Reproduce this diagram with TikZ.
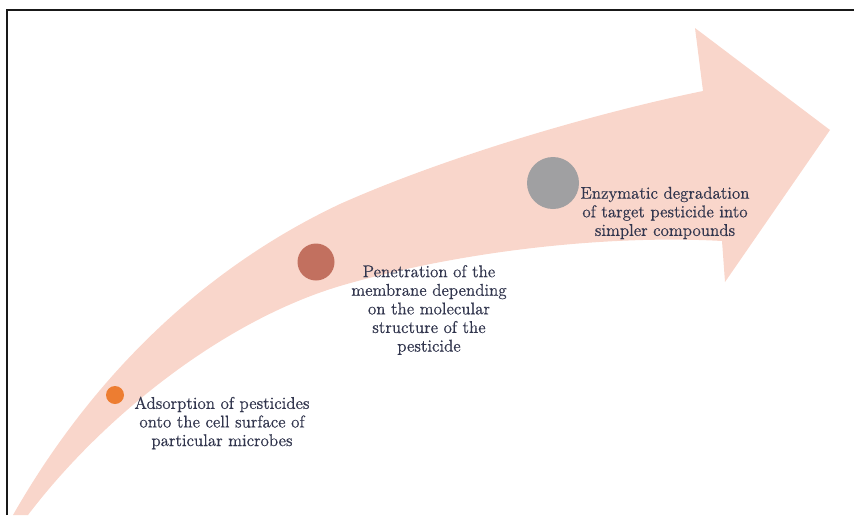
\documentclass[tikz,border=0pt]{standalone}
\usepackage{fontspec}
\newfontfamily\stepfont{lmroman12-regular.otf}[FakeBold=0.6]
\definecolor{arrowpink}{RGB}{249,214,203}
\definecolor{dotorange}{RGB}{237,125,49}
\definecolor{dotbrown}{RGB}{194,112,95}
\definecolor{dotgray}{RGB}{160,160,162}
\definecolor{txtc}{RGB}{50,54,78}
\tikzset{
  dotnode/.style={circle, inner sep=0pt, draw=none},
  steptext/.style={align=center, text=txtc, inner sep=0pt,
    font=\stepfont\fontsize{17}{18.6}\selectfont},
  frameline/.style={line width=2.4pt, black!90}
}
\begin{document}
\begin{tikzpicture}[x=1pt, y=-1pt]
\useasboundingbox (0,0) rectangle (854,515);
% curved arrow
\fill[arrowpink]
  (13,515) .. controls (90,380) and (200,270) .. (340,204)
           .. controls (450,155) and (600,112) .. (703,91)
  -- (695,28) -- (830,130) -- (725,282) -- (722,241)
           .. controls (620,235) and (470,248) .. (340,286)
           .. controls (220,322) and (100,420) .. (28,515)
  -- cycle;
% frame
\draw[frameline] (7,515) -- (7,10) -- (854,10);
% steps
\node[dotnode, fill=dotorange, minimum size=18pt] (s1) at (115,395) {};
\node[dotnode, fill=dotbrown, minimum size=37pt] (s2) at (316,262) {};
\node[dotnode, fill=dotgray, minimum size=52pt] (s3) at (553,183) {};
\node[steptext] (t1) at (222,423) {Adsorption of pesticides\\onto the cell surface of\\particular microbes};
\node[steptext] (t2) at (429,310) {Penetration of the\\membrane depending\\on the molecular\\structure of the\\pesticide};
\node[steptext] (t3) at (665,213) {Enzymatic degradation\\of target pesticide into\\simpler compounds};
\end{tikzpicture}
\end{document}
